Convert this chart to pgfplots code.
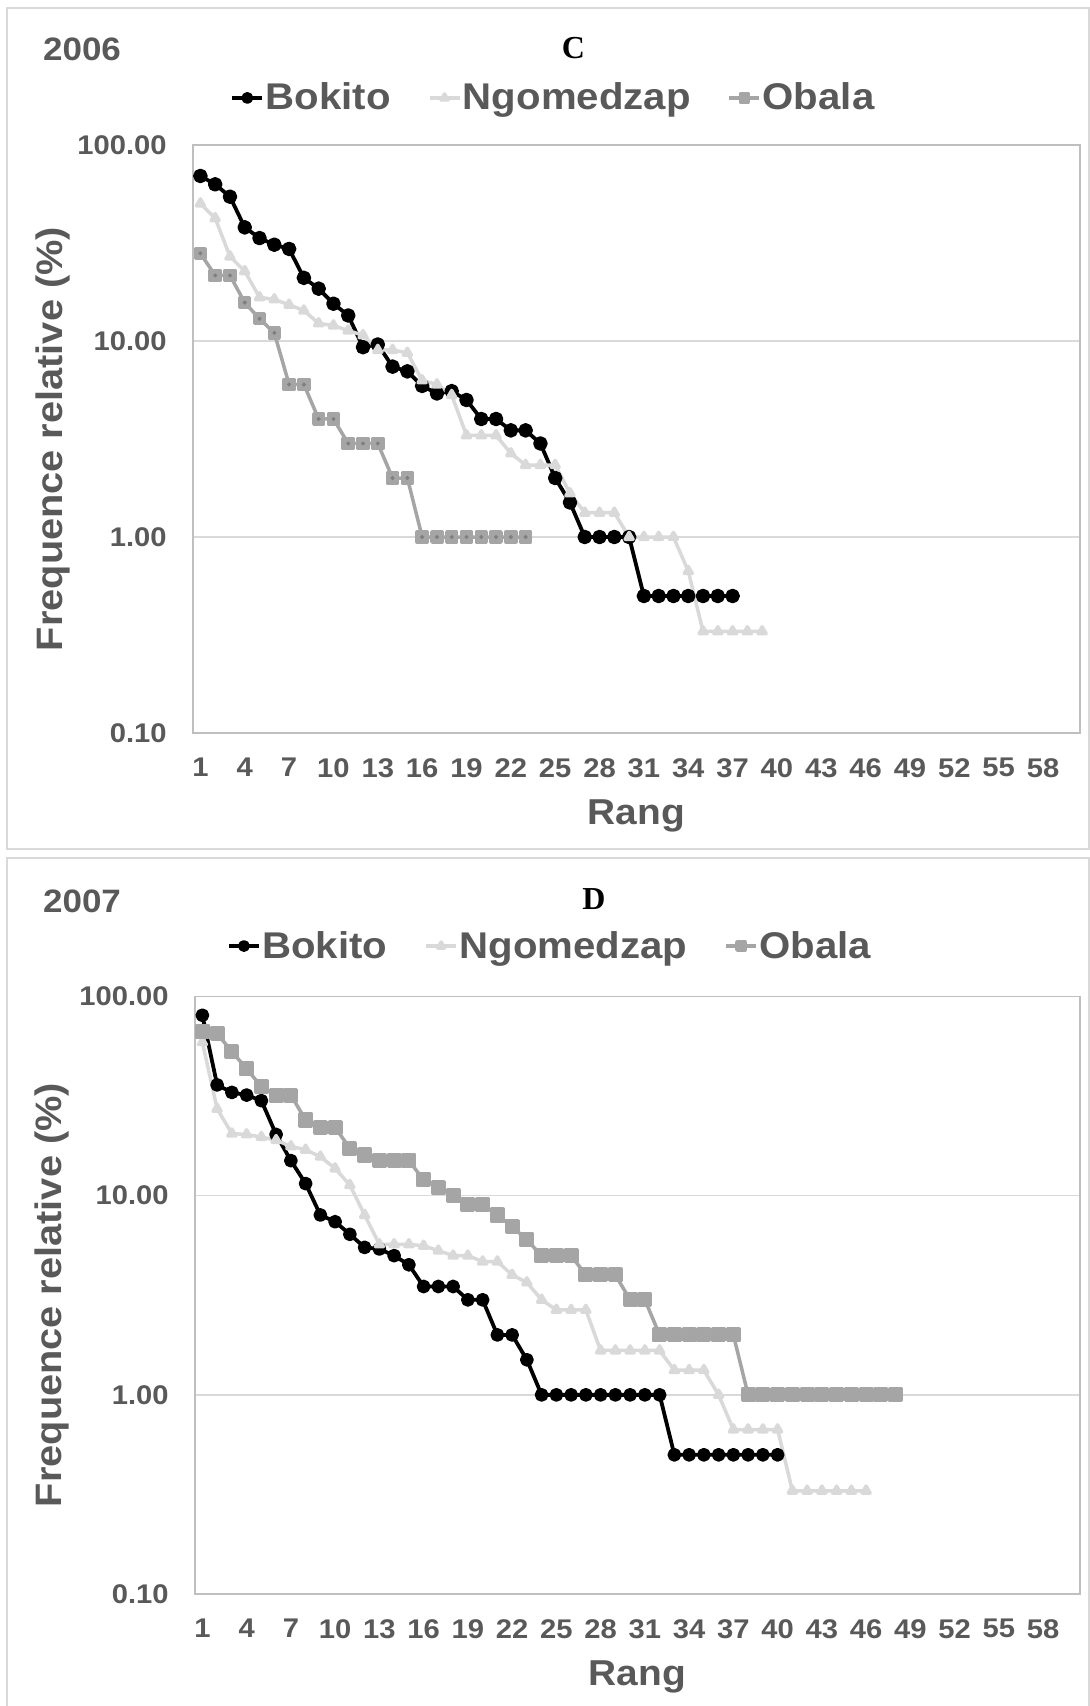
\documentclass[border=0pt]{standalone}
\usepackage{pgfplots}
\pgfplotsset{compat=1.18}
\usepackage{pgfplotstable}
\usepackage{fontspec}
\setmainfont{Liberation Sans}[FakeStretch=1.08]
\newfontfamily\serifbold{Liberation Serif}
\definecolor{txt}{HTML}{595959}
\definecolor{ngocol}{HTML}{D9D9D9}
\definecolor{obacol}{HTML}{A5A5A5}
\definecolor{obadot}{HTML}{7F7F7F}
\definecolor{gridc}{HTML}{D9D9D9}
\definecolor{axisc}{HTML}{BFBFBF}
\definecolor{framec}{HTML}{D9D9D9}

% ---------- 2006 ----------
\pgfplotstableread{
x y
1 69.5
2 63
3 54.5
4 38
5 33.5
6 31
7 29.5
8 21
9 18.5
10 15.5
11 13.5
12 9.3
13 9.6
14 7.4
15 7
16 5.9
17 5.4
18 5.55
19 5
20 4
21 4
22 3.5
23 3.5
24 3
25 2
26 1.5
27 1
28 1
29 1
30 1
31 0.5
32 0.5
33 0.5
34 0.5
35 0.5
36 0.5
37 0.5
}\bokA
\pgfplotstableread{
x y
1 50.3
2 42.3
3 27
4 22.7
5 16.7
6 16.3
7 15.3
8 14.3
9 12.3
10 12
11 11.3
12 10.7
13 9
14 9
15 8.7
16 6.3
17 6
18 5.3
19 3.3
20 3.3
21 3.3
22 2.67
23 2.33
24 2.33
25 2.33
26 1.67
27 1.33
28 1.33
29 1.33
30 1
31 1
32 1
33 1
34 0.67
35 0.33
36 0.33
37 0.33
38 0.33
39 0.33
}\ngoA
\pgfplotstableread{
x y
1 28
2 21.6
3 21.6
4 15.7
5 13
6 11
7 6
8 6
9 4
10 4
11 3
12 3
13 3
14 2
15 2
16 1
17 1
18 1
19 1
20 1
21 1
22 1
23 1
}\obaA
% ---------- 2007 ----------
\pgfplotstableread{
x y
1 80.5
2 36
3 33
4 32
5 30
6 20.3
7 15
8 11.5
9 8
10 7.4
11 6.4
12 5.5
13 5.4
14 5
15 4.5
16 3.5
17 3.5
18 3.5
19 3
20 3
21 2
22 2
23 1.5
24 1
25 1
26 1
27 1
28 1
29 1
30 1
31 1
32 1
33 0.5
34 0.5
35 0.5
36 0.5
37 0.5
38 0.5
39 0.5
40 0.5
}\bokB
\pgfplotstableread{
x y
1 59
2 27.3
3 20.5
4 20.3
5 19.7
6 19
7 17.7
8 17
9 15.7
10 13.7
11 11.3
12 8
13 5.7
14 5.7
15 5.7
16 5.6
17 5.3
18 5
19 5
20 4.67
21 4.67
22 4
23 3.67
24 3
25 2.67
26 2.67
27 2.67
28 1.67
29 1.67
30 1.67
31 1.67
32 1.67
33 1.33
34 1.33
35 1.33
36 1
37 0.67
38 0.67
39 0.67
40 0.67
41 0.33
42 0.33
43 0.33
44 0.33
45 0.33
46 0.33
}\ngoB
\pgfplotstableread{
x y
1 67
2 65
3 53
4 43.3
5 35.3
6 32
7 32
8 24
9 22
10 22
11 17.3
12 16
13 15
14 15
15 15
16 12
17 11
18 10
19 9
20 9
21 8
22 7
23 6
24 5
25 5
26 5
27 4
28 4
29 4
30 3
31 3
32 2
33 2
34 2
35 2
36 2
37 2
38 1
39 1
40 1
41 1
42 1
43 1
44 1
45 1
46 1
47 1
48 1
}\obaB

\pgfplotsset{
  every axis/.append style={
  scale only axis,
  xmin=0.5, xmax=60.5,
  xtick={1,4,...,58},
  xticklabels={1,4,7,10,13,16,19,22,25,28,31,34,37,40,43,46,49,52,55,58},
  ymajorgrids,
  major grid style={gridc, line width=0.75pt},
  major tick length=0pt, minor tick length=0pt,
  axis line style={axisc, line width=0.75pt},
  tick label style={font=\fontsize{13.5}{16}\selectfont\bfseries, text=txt, inner sep=0pt},
  yticklabel style={anchor=east, xshift=-13pt},
  xticklabel style={anchor=north, yshift=-12.5pt},
  legend columns=-1,
  legend style={draw=none, fill=none, inner sep=0pt, outer sep=0pt,
    font=\fontsize{18.6}{21}\selectfont\bfseries, text=txt, anchor=west,
    nodes={inner sep=0pt},
    /tikz/every odd column/.append style={column sep=0.8pt},
    /tikz/every even column/.append style={column sep=18.5pt}},
  clip=false,
 },
}

\begin{document}
\begin{tikzpicture}
\path[use as bounding box, fill=white] (0,0) rectangle (545pt,-853pt);
\draw[framec, line width=0.75pt] (3.5pt,-4pt) rectangle (544.5pt,-424.5pt);
\draw[framec, line width=0.75pt] (3.5pt,-429pt) rectangle (544.5pt,-856pt);

% ---------------- top panel ----------------
\begin{axis}[at={(96.5pt,-366.5pt)}, anchor=south west,
  width=443.5pt, height=294pt,
  ymode=log, ymin=0.1, ymax=100,
  ytick={0.1,1,10,100},
  yticklabels={0.10,1.00,10.00,100.00},
  legend image code/.code={\draw[mark repeat=2,mark phase=2,#1,mark size=2pt] plot coordinates {(0pt,0pt) (7.5pt,0pt) (15pt,0pt)};},
  legend style={at={(0.0422,1.080)}}]
\addplot[black, line width=1.9pt, line join=round, mark=*, mark size=2.7pt, mark options={solid}] table[x=x,y=y] {\bokA};
\addlegendentry{Bokito}
\addplot[ngocol, line width=1.75pt, line join=round, mark=triangle*, mark size=2.3pt, mark options={solid}] table[x=x,y=y] {\ngoA};
\addlegendentry{Ngomedzap}
\addplot[obacol, line width=1.75pt, line join=round, mark=square*, mark size=2.5pt, mark options={solid}] table[x=x,y=y] {\obaA};
\addlegendentry{Obala}
\addplot[only marks, mark=*, mark size=0.8pt, obadot, forget plot] table[x=x,y=y] {\obaA};
\end{axis}
\node[anchor=base west, text=txt, font=\fontsize{16.2}{19}\selectfont\bfseries, inner sep=0pt] at (21.35pt,-30.35pt) {2006};
\node[anchor=base, font=\fontsize{16}{19}\serifbold\bfseries, inner sep=0pt] at (286.75pt,-29.5pt) {C};
\node[rotate=90, anchor=center, text=txt, font=\fontsize{18.4}{22}\selectfont\bfseries, inner sep=0pt] at (26.25pt,-219.5pt) {Frequence relative (\%)};
\node[anchor=base, text=txt, font=\fontsize{18}{22}\selectfont\bfseries, inner sep=0pt] at (318.25pt,-412pt) {Rang};

% ---------------- bottom panel ----------------
\begin{axis}[at={(97.5pt,-797pt)}, anchor=south west,
  width=442.5pt, height=298.75pt,
  ymode=log, ymin=0.1, ymax=100,
  ytick={0.1,1,10,100},
  yticklabels={0.10,1.00,10.00,100.00},
  legend image code/.code={\draw[mark repeat=2,mark phase=2,#1,mark size=2pt] plot coordinates {(0pt,0pt) (7.5pt,0pt) (15pt,0pt)};},
  legend style={at={(0.0362,1.0845)}}]
\addplot[black, line width=1.9pt, line join=round, mark=*, mark size=2.5pt, mark options={solid}] table[x=x,y=y] {\bokB};
\addlegendentry{Bokito}
\addplot[ngocol, line width=1.75pt, line join=round, mark=triangle*, mark size=2.3pt, mark options={solid}] table[x=x,y=y] {\ngoB};
\addlegendentry{Ngomedzap}
\addplot[obacol, line width=1.75pt, line join=round, mark=square*, mark size=2.9pt, mark options={solid}] table[x=x,y=y] {\obaB};
\addlegendentry{Obala}
\end{axis}
\node[anchor=base west, text=txt, font=\fontsize{16.2}{19}\selectfont\bfseries, inner sep=0pt] at (21.35pt,-456pt) {2007};
\node[anchor=base, font=\fontsize{16}{19}\serifbold\bfseries, inner sep=0pt] at (297pt,-454.5pt) {D};
\node[rotate=90, anchor=center, text=txt, font=\fontsize{18.4}{22}\selectfont\bfseries, inner sep=0pt] at (26pt,-647.5pt) {Frequence relative (\%)};
\node[anchor=base, text=txt, font=\fontsize{18}{22}\selectfont\bfseries, inner sep=0pt] at (318.75pt,-842.5pt) {Rang};
\end{tikzpicture}
\end{document}
